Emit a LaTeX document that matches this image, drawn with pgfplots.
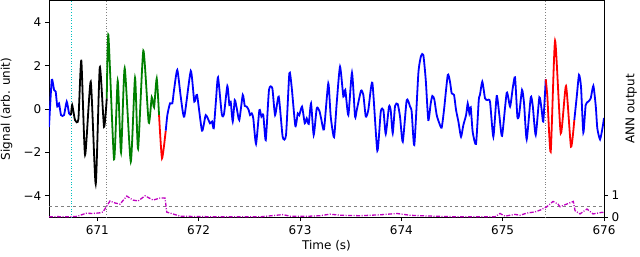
\documentclass[border=0pt]{standalone}
\usepackage{pgfplots}
\pgfplotsset{compat=1.18}
\usepackage{fontspec}
\setmainfont{DejaVu Sans}
\definecolor{mplblue}{rgb}{0,0,1}
\definecolor{mplgreen}{rgb}{0,0.5,0}
\definecolor{mplred}{rgb}{1,0,0}
\definecolor{mplmag}{rgb}{0.75,0,0.75}
\definecolor{mplcyan}{rgb}{0,0.75,0.75}
\begin{document}
\fontsize{12bp}{14bp}\selectfont
\begin{tikzpicture}
\pgfplotsset{
  common/.style={
    scale only axis, width=555bp, height=217bp,
    xmin=670.523, xmax=676,
    tick align=outside, major tick length=3.5bp,
    every tick/.style={black, line width=0.8bp},
    axis line style={line width=0.9bp},
    tick label style={font=\fontsize{12bp}{14bp}\selectfont},
    label style={font=\fontsize{12bp}{14bp}\selectfont},
    /pgf/number format/assume math mode=true,
  },
  sig/.style={line width=1.8bp, smooth, tension=0.35},
}
\begin{axis}[common,
  ymin=-5, ymax=5,
  xtick={671,672,673,674,675,676},
  xticklabels={671,672,673,674,675,676},
  ytick={-4,-2,0,2,4},
  yticklabels={−4,−2,0,2,4},
  xtick pos=bottom, ytick pos=left,
  xlabel={Time (s)}, ylabel={Signal (arb. unit)},
  xlabel style={yshift=2bp},
  ylabel style={yshift=3bp},
]
\addplot[mplcyan, dotted, line width=0.7bp] coordinates {(670.740,-5) (670.740,5)};
\addplot[gray, dotted, line width=0.7bp] coordinates {(671.093,-5) (671.093,5)};
\addplot[gray, dotted, line width=0.7bp] coordinates {(675.425,-5) (675.425,5)};
% blue start
\addplot[mplblue, sig] coordinates {
(670.523,-0.83) (670.550,1.34) (670.573,0.88) (670.589,0.80) (670.605,0.11) (670.622,0.26)
(670.642,-0.28) (670.671,-0.28) (670.698,0.34) (670.721,-0.20) (670.740,-0.28)};
% black
\addplot[black, sig] coordinates {
(670.740,-0.28) (670.752,0.18) (670.780,-0.51) (670.813,-0.47) (670.842,2.23) (670.879,-2.12)
(670.935,1.26) (670.984,-3.46) (671.024,1.92) (671.066,-0.82) (671.093,0.49)};
% green
\addplot[mplgreen, sig] coordinates {
(671.093,0.49) (671.109,3.41) (671.165,-2.32) (671.201,1.30) (671.234,-2.01) (671.270,1.88)
(671.330,-2.43) (671.372,1.44) (671.402,-1.83) (671.454,2.69) (671.507,-0.63) (671.537,0.54)
(671.560,0.08) (671.586,1.41) (671.609,-0.28)};
% red 1
\addplot[mplred, sig] coordinates {
(671.609,-0.28) (671.638,-2.27) (671.675,-1.00)};
% blue main
\addplot[mplblue, sig] coordinates {
(671.675,-1.00) (671.691,-0.28) (671.717,0.26) (671.740,0.26) (671.757,0.88) (671.789,1.80)
(671.823,0.57) (671.858,-0.35) (671.922,1.75) (671.957,0.34) (671.984,0.65) (672.033,-1.00)
(672.070,-0.28) (672.112,-0.66) (672.132,-0.58) (672.149,-0.89) (672.171,0.41) (672.191,1.46)
(672.228,-0.23) (672.250,-0.23) (672.283,1.06) (672.303,0.18) (672.316,0.34) (672.336,-0.58)
(672.356,0.41) (672.376,0.03) (672.401,-0.51) (672.435,0.65) (672.455,0.14) (672.474,0.11)
(672.494,-0.05) (672.507,-0.28) (672.524,-0.20) (672.539,-0.43) (672.566,-1.61) (672.599,-0.05)
(672.619,-0.35) (672.638,-0.28) (672.662,-1.43) (672.694,0.88) (672.727,0.95) (672.754,-0.28)
(672.790,0.57) (672.829,-1.28) (672.862,-1.20) (672.895,1.65) (672.918,1.00) (672.954,-0.78)
(672.978,-0.20) (672.993,-0.28) (673.020,0.11) (673.047,-0.66) (673.066,-0.43) (673.086,-0.69)
(673.109,0.26) (673.135,-1.20) (673.165,0.03) (673.191,-0.08) (673.210,-0.47) (673.237,-0.94)
(673.279,1.18) (673.303,-0.35) (673.336,-1.30) (673.362,0.26) (673.395,1.95) (673.428,0.57)
(673.447,0.88) (673.477,-0.28) (673.513,1.67) (673.543,-0.35) (673.560,-0.05) (673.602,0.84)
(673.625,0.65) (673.649,-0.35) (673.674,-0.05) (673.714,1.21) (673.763,-1.92) (673.797,-0.12)
(673.823,-0.05) (673.846,-1.15) (673.878,0.11) (673.895,-0.05) (673.915,-1.12) (673.938,0.14)
(673.964,0.23) (673.987,-0.35) (674.014,-1.51) (674.053,0.41) (674.086,0.11) (674.102,-0.12)
(674.128,-1.66) (674.168,1.65) (674.194,2.44) (674.217,2.49) (674.241,1.34) (674.266,-0.51)
(674.290,0.26) (674.306,0.60) (674.325,0.45) (674.349,-0.28) (674.375,-0.66) (674.398,-0.86)
(674.421,-0.05) (674.458,1.57) (674.480,1.26) (674.497,0.72) (674.520,0.65) (674.540,-0.05)
(674.563,-0.58) (674.589,-1.28) (674.612,-0.74) (674.639,-0.28) (674.655,0.26) (674.671,-0.20)
(674.685,0.08) (674.704,-1.05) (674.737,-1.61) (674.764,0.41) (674.776,0.65) (674.799,1.26)
(674.826,0.49) (674.849,0.41) (674.875,0.34) (674.908,-1.28) (674.941,0.60) (674.967,-0.28)
(674.994,-1.24) (675.040,0.75) (675.073,0.11) (675.099,0.95) (675.122,1.46) (675.145,-0.35)
(675.162,-0.28) (675.191,0.88) (675.211,0.26) (675.237,-1.40) (675.277,0.54) (675.297,0.14)
(675.326,-1.20) (675.362,0.54) (675.385,-0.05) (675.401,-0.58) (675.425,1.37)};
% red 2
\addplot[mplred, sig] coordinates {
(675.425,1.37) (675.441,0.57) (675.474,-1.97) (675.517,3.15) (675.573,-1.12) (675.625,1.06)
(675.674,-1.74) (675.707,-0.51)};
% blue end
\addplot[mplblue, sig] coordinates {
(675.707,-0.51) (675.731,0.57) (675.753,1.57) (675.773,1.03) (675.796,-1.09) (675.819,0.18)
(675.845,0.34) (675.869,0.49) (675.895,1.07) (675.919,0.11) (675.934,-0.89) (675.961,-1.40)
(675.987,-0.82) (676.000,-0.41)};
\end{axis}
\begin{axis}[common,
  ymin=0, ymax=9.72,
  axis y line*=right, axis x line=none,
  ytick={0,1}, yticklabels={0,1},
  ylabel={ANN output},
  ylabel style={yshift=2bp},
]
\addplot[gray, dashed, line width=0.5bp] coordinates {(670.523,0.5) (676,0.5)};
\addplot[mplmag, line width=1.3bp, dash pattern=on 4bp off 1.5bp on 1bp off 1.5bp] coordinates {
(670.523,0.03) (670.600,0.04) (670.700,0.03) (670.800,0.05) (670.888,0.19) (670.958,0.18)
(671.027,0.21) (671.056,0.25) (671.093,0.51) (671.125,0.74) (671.175,0.65) (671.224,0.60)
(671.290,0.96) (671.352,0.78) (671.402,0.74) (671.471,0.97) (671.550,0.78) (671.619,0.87)
(671.668,0.87) (671.685,0.24) (671.767,0.13) (671.816,0.06) (672.013,0.04) (672.309,0.03)
(672.605,0.03) (672.832,0.13) (672.900,0.06) (673.099,0.06) (673.198,0.08) (673.296,0.15)
(673.395,0.10) (673.592,0.08) (673.789,0.12) (673.957,0.18) (674.086,0.10) (674.184,0.08)
(674.382,0.05) (674.579,0.03) (674.776,0.03) (674.924,0.03) (674.974,0.18) (675.023,0.06)
(675.122,0.14) (675.171,0.10) (675.240,0.20) (675.319,0.25) (675.369,0.33) (675.435,0.48)
(675.497,0.72) (675.546,0.60) (675.566,0.48) (675.697,0.72) (675.714,0.31) (675.763,0.16)
(675.832,0.38) (675.892,0.16) (675.980,0.23) (676.000,0.22)};
\end{axis}
\pgfresetboundingbox
\path[use as bounding box] (-49bp,-39.5bp) rectangle (591bp,217.5bp);
\end{tikzpicture}
\end{document}
